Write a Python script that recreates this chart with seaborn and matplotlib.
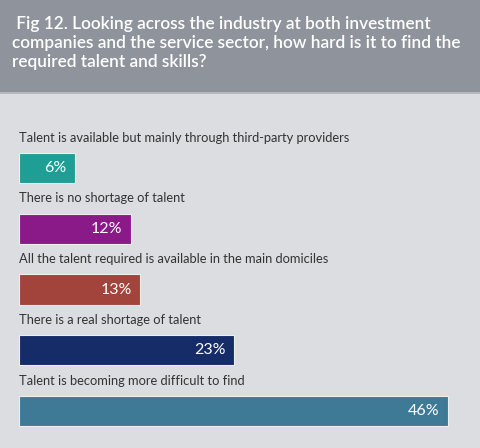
import matplotlib
matplotlib.use("Agg")
import matplotlib.pyplot as plt
import seaborn as sns
import pandas as pd
from matplotlib.patches import Rectangle

answers = [
    "Talent is available but mainly through third-party providers",
    "There is no shortage of talent",
    "All the talent required is available in the main domiciles",
    "There is a real shortage of talent",
    "Talent is becoming more difficult to find",
]
shares = [6, 12, 13, 23, 46]
bar_colors = ["#1f9e96", "#8a1a88", "#a2433c", "#152c69", "#3e7a96"]

title = (" Fig 12. Looking across the industry at both investment\n"
         "companies and the service sector, how hard is it to find the\n"
         "required talent and skills?")

df = pd.DataFrame({"answer": answers, "share": shares})

sns.set_style("white")
plt.rcParams['font.family'] = ['Lato', 'DejaVu Sans']

fig = plt.figure(figsize=(4.8, 4.48), dpi=100)
fig.patch.set_facecolor("#dcdde1")

# grey header band
fig.patches.append(Rectangle((0, 1 - 92 / 448), 1, 92 / 448, transform=fig.transFigure,
                             facecolor="#8f949c", edgecolor="none", zorder=0))
fig.patches.append(Rectangle((0, 1 - 94 / 448), 1, 2 / 448, transform=fig.transFigure,
                             facecolor="#b5b8bd", edgecolor="none", zorder=0))
fig.text(12 / 480, 1 - 16 / 448, title, color="white", fontsize=12.4, va="top", ha="left",
         linespacing=1.22, fontweight="semibold")

ax = fig.add_axes([19 / 480, 0.0147, 0.933, 0.712])
ax.set_facecolor("none")
sns.barplot(data=df, x="share", y="answer", hue="answer", palette=bar_colors,
            saturation=1, legend=False, orient="h", width=0.5, ax=ax,
            edgecolor="#eeeeee", linewidth=0.8)

ax.set_xlim(0, 48)
ax.set_ylim(4.5, -0.75)
ax.axis("off")

for i, (lbl, val) in enumerate(zip(answers, shares)):
    ax.text(0, i - 0.5, lbl, ha="left", va="center", fontsize=9.3, color="#333333")
    ax.annotate(f"{val}%", xy=(val, i), xytext=(-6, 0), textcoords="offset points",
                ha="right", va="center", fontsize=11.5, color="white")

plt.savefig("out.png", dpi=100, facecolor=fig.get_facecolor())
